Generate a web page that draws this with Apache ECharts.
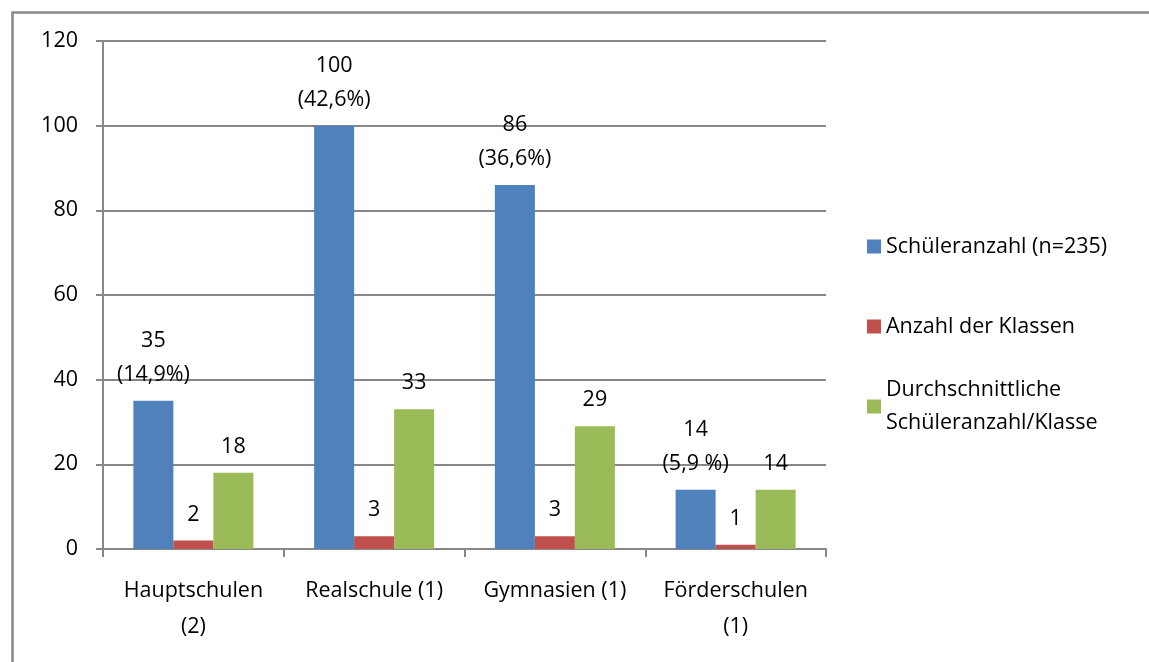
<!DOCTYPE html>
<html>
<head>
<meta charset="utf-8">
<script src="https://cdn.jsdelivr.net/npm/echarts@6/dist/echarts.min.js"></script>
<style>
  html, body { margin: 0; padding: 0; background: #fff; }
  #chart { width: 1149px; height: 662px; }
</style>
</head>
<body>
<div id="chart"></div>
<script>
// Schularten
const categories = ['Hauptschulen\n(2)', 'Realschule (1)', 'Gymnasien (1)', 'Förderschulen\n(1)']
const schueler = [35, 100, 86, 14]
const schuelerAnteil = ['(14,9%)', '(42,6%)', '(36,6%)', '(5,9 %)']
const klassen = [2, 3, 3, 1]
const proKlasse = [18, 33, 29, 14]
const yTicks = [0, 20, 40, 60, 80, 100, 120]

const seriesNames = [
  'Schüleranzahl (n=235)',
  'Anzahl der Klassen',
  'Durchschnittliche\nSchüleranzahl/Klasse'
]

const font = '"Open Sans", sans-serif'
const gray = '#888888'
const txt = { fontFamily: font, fontSize: 21.5, color: '#000' }

const chart = echarts.init(document.getElementById('chart'))

function labelStyle(extra) {
  return Object.assign({
    show: true,
    position: 'top',
    distance: 9,
    lineHeight: 34
  }, txt, extra || {})
}

chart.setOption({
  animation: false,
  graphic: [{
    type: 'rect',
    left: 10,
    top: 10,
    shape: { width: 1200, height: 720 },
    style: { fill: 'none', stroke: gray, lineWidth: 2.5 }
  }],
  grid: { left: 103, right: 323, top: 41, bottom: 113 },
  legend: [
    {
      orient: 'vertical',
      left: 867,
      top: 230,
      padding: 0,
      itemWidth: 14,
      itemHeight: 14,
      itemGap: 47,
      icon: 'rect',
      data: [seriesNames[0], seriesNames[1]],
      textStyle: Object.assign({ lineHeight: 33 }, txt)
    },
    {
      orient: 'vertical',
      left: 867,
      top: 357,
      padding: 0,
      itemWidth: 14,
      itemHeight: 14,
      icon: 'rect',
      data: [seriesNames[2]],
      textStyle: Object.assign({ lineHeight: 33, padding: [33, 0, 0, 0] }, txt)
    }
  ],
  xAxis: {
    type: 'category',
    data: categories,
    axisLine: { lineStyle: { color: gray, width: 2 } },
    axisTick: { show: true, length: 8, lineStyle: { color: gray, width: 2 } },
    axisLabel: Object.assign({ margin: 24, lineHeight: 36, interval: 0 }, txt)
  },
  yAxis: {
    type: 'value',
    min: yTicks[0],
    max: yTicks[yTicks.length - 1],
    interval: 20,
    axisLine: { show: true, lineStyle: { color: gray, width: 2 } },
    axisTick: { show: true, length: 7, lineStyle: { color: gray, width: 2 } },
    splitLine: { lineStyle: { color: gray, width: 2 } },
    axisLabel: Object.assign({ margin: 25 }, txt)
  },
  series: [
    {
      name: seriesNames[0],
      type: 'bar',
      barWidth: 40,
      barGap: '0%',
      data: schueler,
      itemStyle: { color: '#4F81BD' },
      label: labelStyle({
        formatter: p => p.value + '\n' + schuelerAnteil[p.dataIndex]
      })
    },
    {
      name: seriesNames[1],
      type: 'bar',
      barWidth: 40,
      barGap: '0%',
      data: klassen,
      itemStyle: { color: '#C0504D' },
      label: labelStyle()
    },
    {
      name: seriesNames[2],
      type: 'bar',
      barWidth: 40,
      barGap: '0%',
      data: proKlasse,
      itemStyle: { color: '#9BBB59' },
      label: labelStyle()
    }
  ]
})
</script>
</body>
</html>
